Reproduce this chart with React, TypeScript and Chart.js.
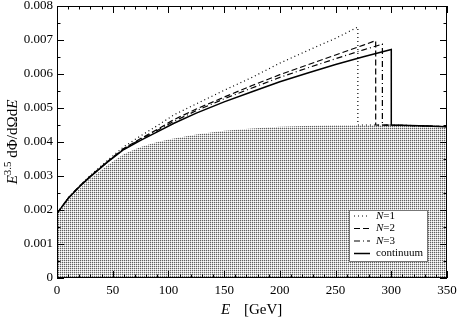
import React, { useEffect, useRef } from "react";
import { Chart, registerables } from "chart.js";

Chart.register(...registerables);

// ---- data ----
const contE = [0, 10, 20, 30, 45, 60, 75, 90, 105, 125, 150, 175, 200, 225, 250, 275, 300, 300, 325, 350];
const contV = [0.0019, 0.00234, 0.00268, 0.00298, 0.0034, 0.00378, 0.00405, 0.0043, 0.00455, 0.00485, 0.00518, 0.00548, 0.00577, 0.00603, 0.00628, 0.00651, 0.00672, 0.0045, 0.00448, 0.00445];

const n1E = [0, 10, 20, 30, 45, 60, 75, 90, 105, 125, 150, 175, 200, 225, 250, 270, 270, 300, 325, 350];
const n1V = [0.0019, 0.00236, 0.0027, 0.00302, 0.00345, 0.00386, 0.00418, 0.00448, 0.0048, 0.00512, 0.00552, 0.0059, 0.00632, 0.00669, 0.00705, 0.00738, 0.0045, 0.0045, 0.00448, 0.00445];

const n2E = [0, 10, 20, 30, 45, 60, 75, 90, 105, 125, 150, 175, 200, 225, 250, 275, 286, 286, 325, 350];
const n2V = [0.0019, 0.00235, 0.0027, 0.003, 0.00342, 0.00381, 0.0041, 0.00437, 0.00466, 0.00497, 0.00532, 0.00566, 0.00598, 0.00627, 0.00656, 0.00685, 0.00698, 0.0045, 0.00448, 0.00445];

const n3E = [0, 10, 20, 30, 45, 60, 75, 90, 105, 125, 150, 175, 200, 225, 250, 275, 292, 292, 325, 350];
const n3V = [0.0019, 0.00234, 0.00269, 0.00299, 0.00341, 0.0038, 0.00408, 0.00434, 0.00461, 0.00492, 0.00527, 0.00559, 0.0059, 0.00618, 0.00645, 0.00671, 0.00688, 0.0045, 0.00448, 0.00445];

const shadeE = [0, 10, 20, 30, 45, 60, 75, 90, 105, 125, 150, 175, 200, 250, 300, 350];
const shadeV = [0.0019, 0.0023, 0.00262, 0.00293, 0.00331, 0.00365, 0.00385, 0.004, 0.0041, 0.00422, 0.00433, 0.0044, 0.00445, 0.0045, 0.0045, 0.00445];

const seriesLabels = ["N=1", "N=2", "N=3", "continuum"];
const xMajor = [0, 50, 100, 150, 200, 250, 300, 350];
const yMajor = [0, 0.001, 0.002, 0.003, 0.004, 0.005, 0.006, 0.007, 0.008];

const pts = (xs: number[], ys: number[]) => xs.map((x, i) => ({ x, y: ys[i] }));

const SERIF = "'Liberation Serif', 'Times New Roman', Times, serif";

function makePattern(): CanvasPattern | string {
  const c = document.createElement("canvas");
  c.width = 2;
  c.height = 2;
  const g = c.getContext("2d");
  if (!g) return "#c4c4c4";
  g.fillStyle = "#ffffff";
  g.fillRect(0, 0, 2, 2);
  g.fillStyle = "#606060";
  g.fillRect(0, 0, 1, 1);
  g.fillStyle = "#d4d4d4";
  g.fillRect(1, 0, 1, 1);
  g.fillRect(0, 1, 1, 1);
  const p = g.createPattern(c, "repeat");
  return p || "#c4c4c4";
}

const dashes: number[][] = [[1, 3], [6, 3], [6, 3, 1, 3], []];

const decorPlugin = {
  id: "decor",
  afterDraw(chart: any) {
    const ctx: CanvasRenderingContext2D = chart.ctx;
    const { left, right, top, bottom } = chart.chartArea;
    const xs = chart.scales.x;
    const ys = chart.scales.y;
    ctx.save();
    ctx.strokeStyle = "#000";
    ctx.lineWidth = 1;
    ctx.strokeRect(left + 0.5, top + 0.5, right - left - 1, bottom - top - 1);
    ctx.beginPath();
    for (let v = 0; v <= 350; v += 10) {
      const px = Math.round(xs.getPixelForValue(v)) + 0.5;
      const len = v % 50 === 0 ? 7 : 3.5;
      ctx.moveTo(px, bottom);
      ctx.lineTo(px, bottom - len);
      ctx.moveTo(px, top);
      ctx.lineTo(px, top + len);
    }
    for (let k = 0; k <= 16; k++) {
      const v = k * 0.0005;
      const py = Math.round(ys.getPixelForValue(v)) + 0.5;
      const len = k % 2 === 0 ? 7 : 3.5;
      ctx.moveTo(left, py);
      ctx.lineTo(left + len, py);
      ctx.moveTo(right, py);
      ctx.lineTo(right - len, py);
    }
    ctx.stroke();

    ctx.fillStyle = "#000";
    ctx.textBaseline = "alphabetic";
    ctx.textAlign = "left";
    ctx.font = `italic 15px ${SERIF}`;
    ctx.fillText("E", 221, 314);
    ctx.font = `15px ${SERIF}`;
    ctx.fillText("[GeV]", 244, 314);

    ctx.save();
    ctx.translate(17, 142);
    ctx.rotate(-Math.PI / 2);
    const parts = [
      { t: "E", f: `italic 15px ${SERIF}`, dy: 0 },
      { t: "3.5", f: `11px ${SERIF}`, dy: -6 },
      { t: " d\u03A6/d\u03A9d", f: `15px ${SERIF}`, dy: 0 },
      { t: "E", f: `italic 15px ${SERIF}`, dy: 0 },
    ];
    let w = 0;
    for (const p of parts) {
      ctx.font = p.f;
      w += ctx.measureText(p.t).width;
    }
    let cx = -w / 2;
    for (const p of parts) {
      ctx.font = p.f;
      ctx.fillText(p.t, cx, p.dy);
      cx += ctx.measureText(p.t).width;
    }
    ctx.restore();

    const bx = 349, by = 210, bw = 78, bh = 51;
    ctx.fillStyle = "#fff";
    ctx.fillRect(bx, by, bw, bh);
    ctx.strokeStyle = "#777";
    ctx.lineWidth = 1;
    ctx.strokeRect(bx + 0.5, by + 0.5, bw, bh);
    const rows = [216, 228.5, 241, 253.5];
    chart.data.datasets.forEach((ds: any, i: number) => {
      if (i > 3) return;
      const y = rows[i];
      ctx.beginPath();
      ctx.setLineDash(dashes[i]);
      ctx.strokeStyle = "#000";
      ctx.lineWidth = i === 3 ? 1.5 : 1.2;
      ctx.moveTo(354, y);
      ctx.lineTo(370, y);
      ctx.stroke();
      ctx.setLineDash([]);
      ctx.fillStyle = "#000";
      ctx.textBaseline = "middle";
      const lab: string = ds.label;
      if (lab.startsWith("N")) {
        ctx.font = `italic 11px ${SERIF}`;
        ctx.fillText("N", 376, y);
        const nw = ctx.measureText("N").width;
        ctx.font = `11px ${SERIF}`;
        ctx.fillText(lab.slice(1), 376 + nw, y);
      } else {
        ctx.font = `11px ${SERIF}`;
        ctx.fillText(lab, 376, y);
      }
    });
    ctx.restore();
  },
};

export default function App() {
  const ref = useRef<HTMLCanvasElement | null>(null);
  useEffect(() => {
    document.body.style.margin = "0";
    if (!ref.current) return;
    const pattern = makePattern();
    const lineDs = (label: string, data: any, dash: number[], width: number) => ({
      label,
      data,
      borderColor: "#000",
      borderWidth: width,
      borderDash: dash,
      pointRadius: 0,
      fill: false,
      tension: 0,
    });
    const chart = new Chart(ref.current, {
      type: "line",
      data: {
        datasets: [
          lineDs(seriesLabels[0], pts(n1E, n1V), dashes[0], 1.2),
          lineDs(seriesLabels[1], pts(n2E, n2V), dashes[1], 1.2),
          lineDs(seriesLabels[2], pts(n3E, n3V), dashes[2], 1.2),
          lineDs(seriesLabels[3], pts(contE, contV), dashes[3], 1.5),
          {
            label: "shade",
            data: pts(shadeE, shadeV),
            borderWidth: 0,
            borderColor: "rgba(0,0,0,0)",
            backgroundColor: pattern as any,
            pointRadius: 0,
            fill: "origin",
            tension: 0,
          },
        ],
      },
      options: {
        animation: false,
        responsive: false,
        events: [],
        layout: { padding: { top: 6, right: 11, left: 0, bottom: 0 } },
        plugins: { legend: { display: false }, tooltip: { enabled: false } },
        scales: {
          x: {
            type: "linear",
            min: 0,
            max: 350,
            afterFit: (s: any) => {
              s.height = 40;
              s.paddingLeft = 0;
              s.paddingRight = 0;
            },
            afterBuildTicks: (s: any) => {
              s.ticks = xMajor.map((v) => ({ value: v }));
            },
            grid: { display: false, drawTicks: false },
            border: { display: false },
            ticks: {
              padding: 5,
              color: "#000",
              font: { family: SERIF, size: 13 },
              maxRotation: 0,
              callback: (v: any) => String(v),
            },
          },
          y: {
            type: "linear",
            min: 0,
            max: 0.008,
            afterFit: (s: any) => {
              s.width = 57;
              s.paddingTop = 0;
              s.paddingBottom = 0;
            },
            afterBuildTicks: (s: any) => {
              s.ticks = yMajor.map((v) => ({ value: v }));
            },
            grid: { display: false, drawTicks: false },
            border: { display: false },
            ticks: {
              padding: 4,
              color: "#000",
              font: { family: SERIF, size: 13 },
              callback: (v: any) => (Number(v) === 0 ? "0" : Number(v).toFixed(3)),
            },
          },
        },
      },
      plugins: [decorPlugin],
    });
    let alive = true;
    if ((document as any).fonts && (document as any).fonts.load) {
      Promise.all([
        (document as any).fonts.load(`13px 'Liberation Serif'`),
        (document as any).fonts.load(`italic 15px 'Liberation Serif'`),
      ])
        .then(() => {
          if (alive) chart.update();
        })
        .catch(() => {});
    }
    return () => {
      alive = false;
      chart.destroy();
    };
  }, []);
  return <canvas ref={ref} width={458} height={318} style={{ display: "block" }} />;
}
